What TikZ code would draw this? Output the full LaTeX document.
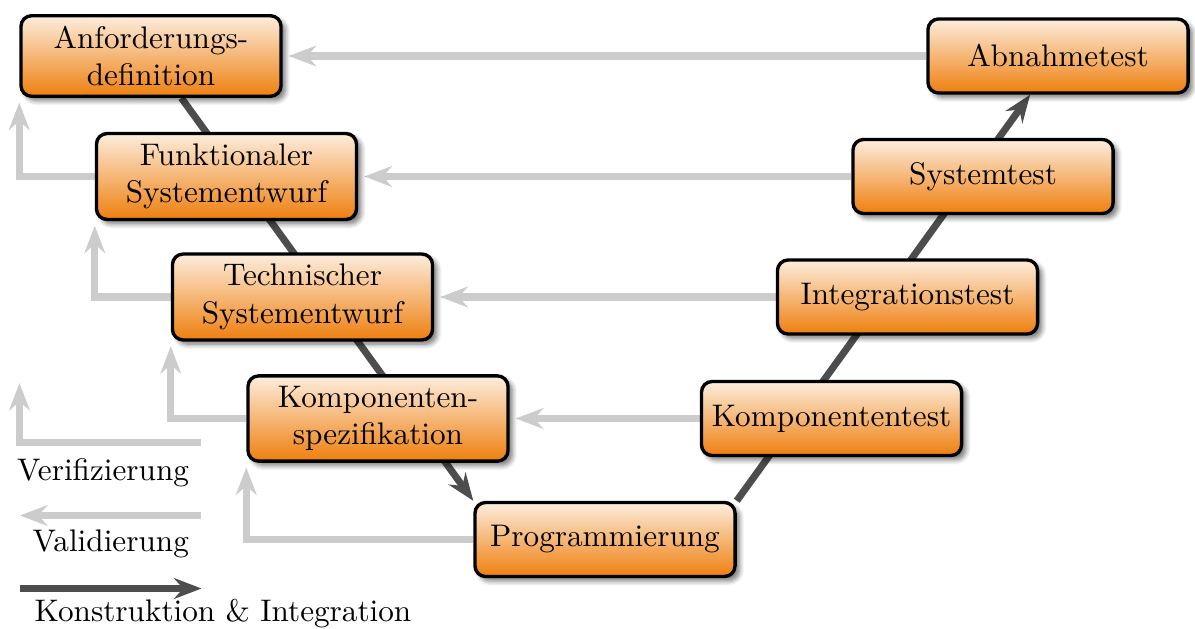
\documentclass[tikz,border=0pt]{standalone}
\usetikzlibrary{arrows.meta,shadows.blur,backgrounds}

\definecolor{boxtop}{RGB}{253,237,221}
\definecolor{boxbottom}{RGB}{238,127,14}
\definecolor{checkgray}{RGB}{204,204,204}
\definecolor{buildgray}{RGB}{77,77,77}

\begin{document}
\begin{tikzpicture}[x=0.3268pt, y=-0.3268pt,
  every node/.style={font=\fontsize{10.2pt}{12.25pt}\selectfont},
  phase/.style={draw=black, line width=1.1pt, rounded corners=3.5pt,
    top color=boxtop, bottom color=boxbottom,
    minimum width=85pt, minimum height=24.2pt, align=center,
    blur shadow={shadow xshift=1.4pt, shadow yshift=-1.4pt,
                 shadow blur radius=1.6pt, shadow blur steps=6, shadow opacity=55}},
  check/.style={draw=checkgray, line width=2.3pt,
    -{Stealth[length=9pt, width=6.8pt, inset=3pt]}},
  build/.style={draw=buildgray, line width=2.3pt,
    -{Stealth[length=9pt, width=6.8pt, inset=3pt]}},
  caption/.style={inner sep=0pt, anchor=base west}]

\useasboundingbox (0,0) rectangle (1195,628);

% left arm: specification phases
\node[phase] (req) at (151,56)      {Anforderungs-\\definition};
\node[phase] (fun) at (226.5,176.5) {Funktionaler\\Systementwurf};
\node[phase] (tec) at (302.5,297)   {Technischer\\Systementwurf};
\node[phase] (com) at (378,418.5)   {Komponenten-\\spezifikation};
% bottom of the V
\node[phase] (prg) at (605,539.5)   {Programmierung};
% right arm: test phases
\node[phase] (ctest) at (831.5,418.5) {Komponententest};
\node[phase] (itest) at (907.5,297)   {Integrationstest};
\node[phase] (stest) at (983,176.5)   {Systemtest};
\node[phase] (atest) at (1058,56)     {Abnahmetest};

\begin{scope}[on background layer]
  % construction and integration
  \draw[build] (req) -- (prg.north west);
  \draw[build] (prg.north east) -- (atest);
  % validation
  \draw[check, shorten >=2pt] (atest) -- (req);
  \draw[check, shorten >=2pt] (stest) -- (fun);
  \draw[check, shorten >=2pt] (itest) -- (tec);
  \draw[check, shorten >=2pt] (ctest) -- (com);
  % verification
  \draw[check, shorten >=1.5pt] (fun.west) -| (req.south west);
  \draw[check, shorten >=1.5pt] (tec.west) -| (fun.south west);
  \draw[check, shorten >=1.5pt] (com.west) -| (tec.south west);
  \draw[check, shorten >=1.5pt] (prg.west) -| (com.south west);
\end{scope}

% legend
\coordinate (verA) at (201,442.5);
\coordinate (verB) at (19.5,383);
\draw[check] (verA) -| (verB);
\node[caption] (verText) at (16.5,480.5) {Verifizierung};

\coordinate (valA) at (201,515.5);
\coordinate (valB) at (20,515.5);
\draw[check] (valA) -- (valB);
\node[caption] (valText) at (32,551.5) {Validierung};

\coordinate (bldA) at (20,588.5);
\coordinate (bldB) at (201.5,588.5);
\draw[build] (bldA) -- (bldB);
\node[caption] (bldText) at (34,621.5) {Konstruktion \& Integration};

\end{tikzpicture}
\end{document}
